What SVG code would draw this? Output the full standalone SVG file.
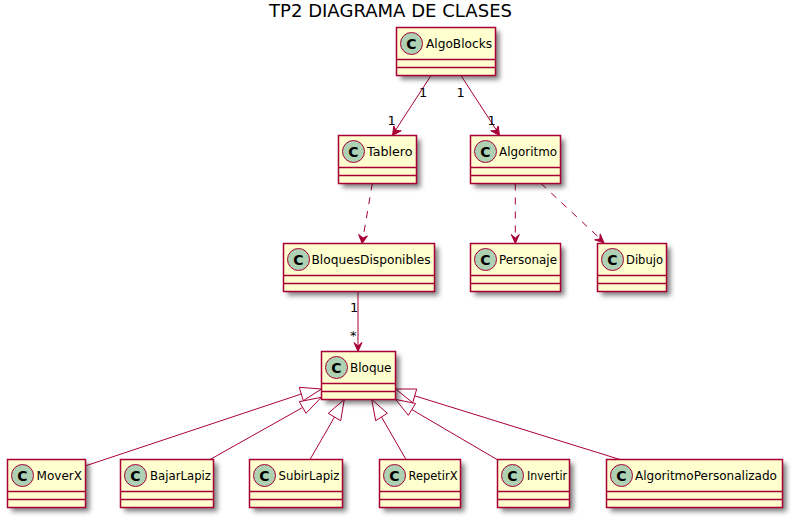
<svg xmlns="http://www.w3.org/2000/svg" width="793" height="520" viewBox="0 0 793 520">
<style>
text{font-family:"DejaVu Sans",sans-serif;font-size:13px;fill:#000}
.box{fill:#FEFECE;stroke:#A80036;stroke-width:1.5}
.sep{stroke:#A80036;stroke-width:1.5;fill:none}
.spot{fill:#ADD1B2;stroke:#A80036;stroke-width:1}
.c{font-weight:bold;font-size:14px;text-anchor:middle;fill:#000}
.line{stroke:#A80036;stroke-width:1;fill:none}
.dash{stroke-dasharray:7 7}
.head{fill:#A80036;stroke:#A80036;stroke-width:1}
.tri{fill:none;stroke:#A80036;stroke-width:1}
.title{font-size:18px}
.shadow{fill:#000;opacity:.5}
</style>
<defs>
<filter id="sh" x="-20%" y="-20%" width="150%" height="150%"><feGaussianBlur stdDeviation="2.5"/></filter>
</defs>
<text class="title" x="269" y="16.5" textLength="243" lengthAdjust="spacingAndGlyphs">TP2 DIAGRAMA DE CLASES</text>
<g id="connectors">
<path class="line" d="M431,75.5L395,131"/><path class="head" d="M392.5,135.5L393.8,126L396,130.5L401.2,130.8Z"/>
<path class="line" d="M461,75.5L497,131"/><path class="head" d="M499.5,135.5L490.8,130.8L496,130.5L498.2,126Z"/>
<path class="line dash" d="M372.3,183.5L363,238"/><path class="head" d="M362.2,243.5L358.6,234.4L363,238L367.4,235.9Z"/>
<path class="line dash" d="M515.3,183.5L515.3,238"/><path class="head" d="M515.3,243.5L511.3,234.5L515.3,238L519.3,234.5Z"/>
<path class="line dash" d="M541,183.5L600,238.5"/><path class="head" d="M604,243L594.7,239.8L599.8,239.1L600.2,233.9Z"/>
<path class="line" d="M358,291.5L358,346"/><path class="head" d="M358,351.5L354,342.5L358,346L362,342.5Z"/>
<path class="line" d="M86,465.7L301.3,394"/><path class="tri" d="M321.4,389L299.3,387.3L303.3,400.7Z"/>
<path class="line" d="M210,459.5L302.6,407.5"/><path class="tri" d="M321.4,397.3L299.3,401.7L306,413.3Z"/>
<path class="line" d="M310,459.5L334.5,417"/><path class="tri" d="M344.3,399.4L328.3,413.3L340.7,420.7Z"/>
<path class="line" d="M406,459.5L381.5,417"/><path class="tri" d="M371.7,399.4L375.7,420.7L387.3,413.3Z"/>
<path class="line" d="M497,459.5L412,409.7"/><path class="tri" d="M395.6,399.4L408.3,415.3L415.5,403.5Z"/>
<path class="line" d="M620,459.5L414.7,395.8"/><path class="tri" d="M395.6,389L412.7,402.7L416.7,389Z"/>
</g>
<g id="AlgoBlocks"><rect class="shadow" x="400.5" y="31.5" width="99" height="48" filter="url(#sh)"/><rect class="box" x="396.5" y="27.5" width="99" height="48"/><path class="sep" d="M396.5,59.5H495.5M396.5,67.5H495.5"/><circle class="spot" cx="411.5" cy="43.5" r="11"/><text class="c" x="411.5" y="48.5">C</text><text x="426" y="48" textLength="66" lengthAdjust="spacingAndGlyphs">AlgoBlocks</text></g>
<g id="Tablero"><rect class="shadow" x="342.5" y="139.5" width="78" height="48" filter="url(#sh)"/><rect class="box" x="338.5" y="135.5" width="78" height="48"/><path class="sep" d="M338.5,167.5H416.5M338.5,175.5H416.5"/><circle class="spot" cx="353.5" cy="151.5" r="11"/><text class="c" x="353.5" y="156.5">C</text><text x="367" y="156" textLength="45.5" lengthAdjust="spacingAndGlyphs">Tablero</text></g>
<g id="Algoritmo"><rect class="shadow" x="474.5" y="139.5" width="90" height="48" filter="url(#sh)"/><rect class="box" x="470.5" y="135.5" width="90" height="48"/><path class="sep" d="M470.5,167.5H560.5M470.5,175.5H560.5"/><circle class="spot" cx="485.5" cy="151.5" r="11"/><text class="c" x="485.5" y="156.5">C</text><text x="499" y="156" textLength="58" lengthAdjust="spacingAndGlyphs">Algoritmo</text></g>
<g id="BloquesDisponibles"><rect class="shadow" x="287.5" y="247.5" width="151" height="48" filter="url(#sh)"/><rect class="box" x="283.5" y="243.5" width="151" height="48"/><path class="sep" d="M283.5,275.5H434.5M283.5,283.5H434.5"/><circle class="spot" cx="298.5" cy="259.5" r="11"/><text class="c" x="298.5" y="264.5">C</text><text x="311.5" y="264" textLength="119" lengthAdjust="spacingAndGlyphs">BloquesDisponibles</text></g>
<g id="Personaje"><rect class="shadow" x="474.5" y="247.5" width="90" height="48" filter="url(#sh)"/><rect class="box" x="470.5" y="243.5" width="90" height="48"/><path class="sep" d="M470.5,275.5H560.5M470.5,283.5H560.5"/><circle class="spot" cx="485.5" cy="259.5" r="11"/><text class="c" x="485.5" y="264.5">C</text><text x="499" y="264" textLength="58" lengthAdjust="spacingAndGlyphs">Personaje</text></g>
<g id="Dibujo"><rect class="shadow" x="601.5" y="247.5" width="69" height="48" filter="url(#sh)"/><rect class="box" x="597.5" y="243.5" width="69" height="48"/><path class="sep" d="M597.5,275.5H666.5M597.5,283.5H666.5"/><circle class="spot" cx="612.5" cy="259.5" r="11"/><text class="c" x="612.5" y="264.5">C</text><text x="626" y="264" textLength="37" lengthAdjust="spacingAndGlyphs">Dibujo</text></g>
<g id="Bloque"><rect class="shadow" x="325.5" y="355.5" width="74" height="48" filter="url(#sh)"/><rect class="box" x="321.5" y="351.5" width="74" height="48"/><path class="sep" d="M321.5,383.5H395.5M321.5,391.5H395.5"/><circle class="spot" cx="336.5" cy="367.5" r="11"/><text class="c" x="336.5" y="372.5">C</text><text x="350" y="372" textLength="41.5" lengthAdjust="spacingAndGlyphs">Bloque</text></g>
<g id="MoverX"><rect class="shadow" x="11.5" y="463.5" width="78" height="48" filter="url(#sh)"/><rect class="box" x="7.5" y="459.5" width="78" height="48"/><path class="sep" d="M7.5,491.5H85.5M7.5,499.5H85.5"/><circle class="spot" cx="22.5" cy="475.5" r="11"/><text class="c" x="22.5" y="480.5">C</text><text x="36.5" y="480" textLength="45.5" lengthAdjust="spacingAndGlyphs">MoverX</text></g>
<g id="BajarLapiz"><rect class="shadow" x="124.5" y="463.5" width="93" height="48" filter="url(#sh)"/><rect class="box" x="120.5" y="459.5" width="93" height="48"/><path class="sep" d="M120.5,491.5H213.5M120.5,499.5H213.5"/><circle class="spot" cx="135.5" cy="475.5" r="11"/><text class="c" x="135.5" y="480.5">C</text><text x="150" y="480" textLength="61" lengthAdjust="spacingAndGlyphs">BajarLapiz</text></g>
<g id="SubirLapiz"><rect class="shadow" x="253.5" y="463.5" width="93" height="48" filter="url(#sh)"/><rect class="box" x="249.5" y="459.5" width="93" height="48"/><path class="sep" d="M249.5,491.5H342.5M249.5,499.5H342.5"/><circle class="spot" cx="264.5" cy="475.5" r="11"/><text class="c" x="264.5" y="480.5">C</text><text x="278.5" y="480" textLength="61" lengthAdjust="spacingAndGlyphs">SubirLapiz</text></g>
<g id="RepetirX"><rect class="shadow" x="383.5" y="463.5" width="81" height="48" filter="url(#sh)"/><rect class="box" x="379.5" y="459.5" width="81" height="48"/><path class="sep" d="M379.5,491.5H460.5M379.5,499.5H460.5"/><circle class="spot" cx="394.5" cy="475.5" r="11"/><text class="c" x="394.5" y="480.5">C</text><text x="408.5" y="480" textLength="49" lengthAdjust="spacingAndGlyphs">RepetirX</text></g>
<g id="Invertir"><rect class="shadow" x="501.5" y="463.5" width="72" height="48" filter="url(#sh)"/><rect class="box" x="497.5" y="459.5" width="72" height="48"/><path class="sep" d="M497.5,491.5H569.5M497.5,499.5H569.5"/><circle class="spot" cx="512.5" cy="475.5" r="11"/><text class="c" x="512.5" y="480.5">C</text><text x="527" y="480" textLength="40" lengthAdjust="spacingAndGlyphs">Invertir</text></g>
<g id="AlgoritmoPersonalizado"><rect class="shadow" x="610.5" y="463.5" width="176" height="48" filter="url(#sh)"/><rect class="box" x="606.5" y="459.5" width="176" height="48"/><path class="sep" d="M606.5,491.5H782.5M606.5,499.5H782.5"/><circle class="spot" cx="621.5" cy="475.5" r="11"/><text class="c" x="621.5" y="480.5">C</text><text x="635" y="480" textLength="142" lengthAdjust="spacingAndGlyphs">AlgoritmoPersonalizado</text></g>
<g id="labels">
<text x="419" y="97">1</text><text x="456.5" y="97">1</text><text x="387.5" y="125">1</text><text x="487.5" y="125">1</text><text x="350" y="312">1</text><text x="350" y="340">*</text>
</g>
</svg>
